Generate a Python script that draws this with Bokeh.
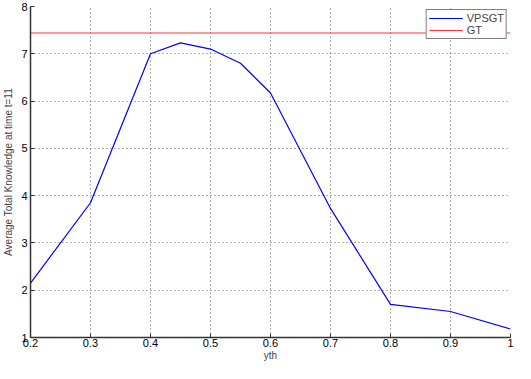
from bokeh.plotting import figure
from bokeh.models import Legend, LegendItem, FixedTicker, Range1d
from bokeh.embed import file_html
from bokeh.resources import INLINE

yth = [0.2, 0.3, 0.4, 0.45, 0.5, 0.55, 0.6, 0.7, 0.8, 0.9, 1.0]
vpsgt = [2.15, 3.85, 7.0, 7.23, 7.1, 6.8, 6.17, 3.73, 1.7, 1.55, 1.18]
gt_value = 7.44
x_ticks = [0.2, 0.3, 0.4, 0.5, 0.6, 0.7, 0.8, 0.9, 1.0]
x_tick_labels = {0.2: "0.2", 0.3: "0.3", 0.4: "0.4", 0.5: "0.5", 0.6: "0.6",
                 0.7: "0.7", 0.8: "0.8", 0.9: "0.9", 1.0: "1"}
y_ticks = [1, 2, 3, 4, 5, 6, 7, 8]

FONT = "Liberation Sans"

p = figure(width=515, height=363, output_backend="svg", toolbar_location=None,
           x_range=Range1d(0.2, 1.0), y_range=Range1d(1, 8),
           min_border_left=4, min_border_right=5, min_border_top=6, min_border_bottom=2)
p.outline_line_color = None
p.background_fill_color = "white"

l1 = p.line(yth, vpsgt, line_color="#0000ff", line_width=1.2)
l2 = p.line([yth[0], yth[-1]], [gt_value, gt_value], line_color="#ff0000", line_width=1.2, line_alpha=0.8)

for ax in (p.xaxis[0], p.yaxis[0]):
    ax.major_label_text_font = FONT
    ax.major_label_text_font_size = "11px"
    ax.major_label_text_color = "black"
    ax.axis_label_text_font = FONT
    ax.axis_label_text_font_size = "10px"
    ax.axis_label_text_font_style = "normal"
    ax.axis_line_color = "#333333"
    ax.axis_line_width = 1.5
    ax.major_tick_in = 4
    ax.major_tick_out = 0
    ax.major_tick_line_color = "#333333"
    ax.minor_tick_line_color = None

p.xaxis.ticker = FixedTicker(ticks=x_ticks)
p.xaxis.major_label_overrides = x_tick_labels
p.xaxis.axis_label = "yth"
p.xaxis.major_label_standoff = 1
p.xaxis.axis_label_standoff = 0

p.yaxis.ticker = FixedTicker(ticks=y_ticks)
p.yaxis.axis_label = "Average Total Knowledge at time t=11"
p.yaxis.major_label_standoff = 3
p.yaxis.axis_label_standoff = 4

for g in (p.xgrid[0], p.ygrid[0]):
    g.grid_line_color = "#666666"
    g.grid_line_dash = "1 3"
    g.grid_line_width = 1

legend = Legend(items=[LegendItem(label="VPSGT", renderers=[l1]),
                       LegendItem(label="GT", renderers=[l2])],
                location="top_right")
legend.label_text_font = FONT
legend.label_text_font_size = "11px"
legend.border_line_color = "black"
legend.border_line_width = 1.5
legend.background_fill_color = "white"
legend.background_fill_alpha = 1
legend.glyph_width = 34
legend.glyph_height = 12
legend.label_height = 12
legend.spacing = 0
legend.padding = 2
legend.margin = 3
legend.label_standoff = 4
p.add_layout(legend)

open("out.html", "w").write(file_html(p, INLINE))
